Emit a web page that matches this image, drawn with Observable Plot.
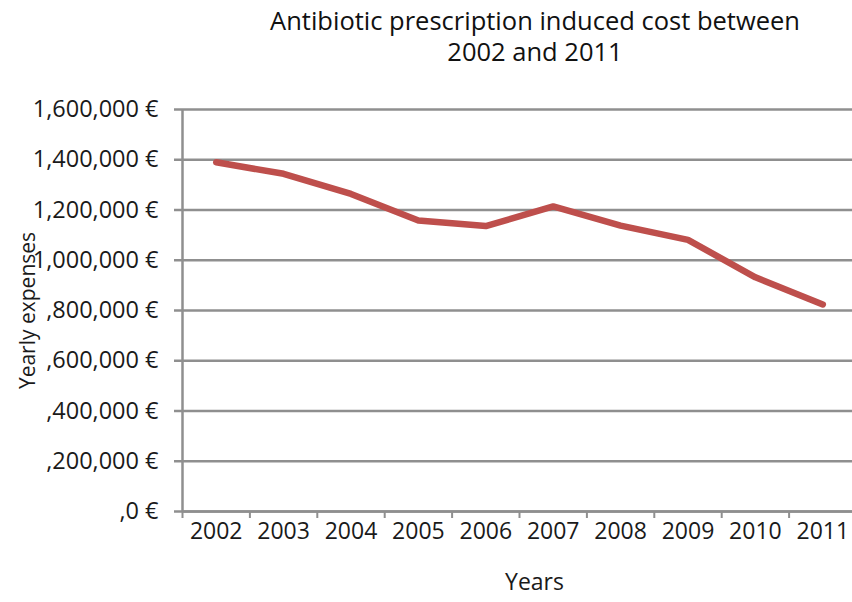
<!DOCTYPE html>
<html>
<head>
<meta charset="utf-8">
<script src="https://cdn.jsdelivr.net/npm/d3@7"></script>
<script src="https://cdn.jsdelivr.net/npm/@observablehq/plot@0.6"></script>
<style>
  html, body { margin: 0; padding: 0; background: #fff; }
  #chart { width: 852px; font-family: "Open Sans", sans-serif; color: #111; }
  #title {
    box-sizing: border-box;
    height: 90px;
    padding: 5px 0 0 218px;
    font-size: 25.5px;
    line-height: 31px;
    text-align: center;
  }
</style>
</head>
<body>
<div id="chart">
  <div id="title">Antibiotic prescription induced cost between<br>2002 and 2011</div>
</div>
<script>
// Yearly antibiotic prescription cost
const years = [2002, 2003, 2004, 2005, 2006, 2007, 2008, 2009, 2010, 2011];
const expenses = [1390000, 1344000, 1264000, 1158000, 1136000, 1214000, 1138000, 1081000, 932000, 824000];

// Value axis ticks and their printed labels
const yTicks = [0, 200000, 400000, 600000, 800000, 1000000, 1200000, 1400000, 1600000];
const yTickLabels = [",0 €", ",200,000 €", ",400,000 €", ",600,000 €", ",800,000 €",
                     "1,000,000 €", "1,200,000 €", "1,400,000 €", "1,600,000 €"];

// Category slots: each year sits in the middle of its slot
const yearBounds = [2001.5, 2002.5, 2003.5, 2004.5, 2005.5, 2006.5, 2007.5, 2008.5, 2009.5, 2010.5];

const rows = years.map((year, i) => ({year, value: expenses[i]}));
const grey = "#8f8f8f";

const chart = Plot.plot({
  width: 852,
  height: 512,
  marginTop: 19,
  marginBottom: 91,
  marginLeft: 182,
  marginRight: 0,
  style: {fontFamily: "'Open Sans', sans-serif", fontSize: "21px", color: "#1a1a1a", background: "#fff"},
  x: {domain: [2001.5, 2011.5], range: [182, 856]},
  y: {domain: [0, 1600000]},
  marks: [
    Plot.ruleY(yTicks, {stroke: grey, strokeWidth: 2.5}),
    Plot.axisY({
      ticks: yTicks,
      tickSize: 8,
      tickPadding: 16,
      stroke: grey,
      strokeWidth: 2.5,
      strokeOpacity: 1,
      tickFormat: d => yTickLabels[yTicks.indexOf(d)],
      fontSize: 23.5,
      label: null
    }),
    Plot.axisY({
      ticks: [],
      tickSize: 0,
      fontSize: 21,
      label: "Yearly expenses",
      labelAnchor: "center",
      labelOffset: 162,
      labelArrow: "none"
    }),
    Plot.ruleX([yearBounds[0]], {stroke: grey, strokeWidth: 2.5}),
    Plot.axisX({
      ticks: yearBounds,
      tickSize: 7,
      stroke: grey,
      strokeWidth: 2,
      strokeOpacity: 1,
      tickFormat: () => "",
      label: null
    }),
    Plot.axisX({
      ticks: years,
      tickSize: 0,
      tickPadding: 11,
      tickFormat: d => String(d),
      fontSize: 23,
      label: null
    }),
    Plot.text(["Years"], {
      frameAnchor: "bottom",
      dx: 17,
      dy: 78,
      fontSize: 23,
      fill: "#1a1a1a"
    }),
    Plot.ruleY([0], {stroke: grey, strokeWidth: 2.5}),
    Plot.line(rows, {
      x: "year",
      y: "value",
      stroke: "#be4f4c",
      strokeWidth: 6.5,
      strokeLinejoin: "round",
      strokeLinecap: "round"
    })
  ]
});

document.getElementById("chart").appendChild(chart);
</script>
</body>
</html>
